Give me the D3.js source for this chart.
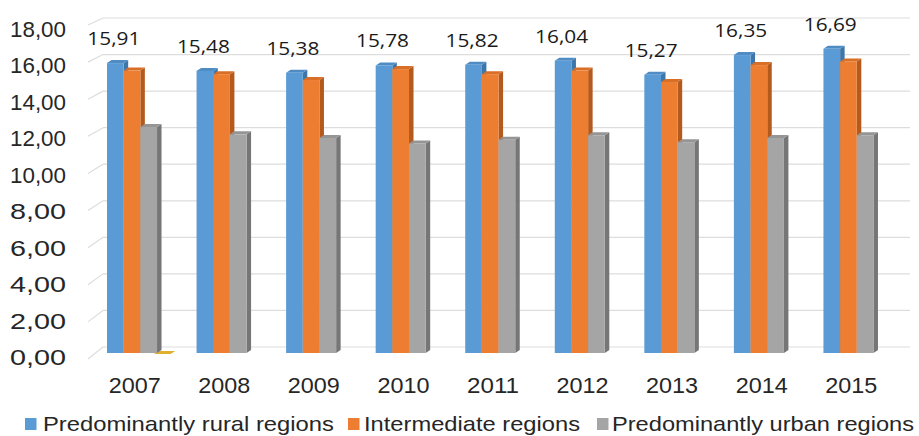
<!DOCTYPE html>
<html>
<head>
<meta charset="utf-8">
<script src="https://cdn.jsdelivr.net/npm/d3@7"></script>
<style>
  body { margin: 0; background: #fff; }
  svg { display: block; }
  .sans { font-family: "Liberation Sans", Arial, sans-serif; fill: #262626; }
  .val { font-family: "Open Sans", Lato, sans-serif; fill: #1a1a1a; }
</style>
</head>
<body>
<div id="chart"></div>
<script>
"use strict";

// Chart data.
const years = ["2007", "2008", "2009", "2010", "2011", "2012", "2013", "2014", "2015"];
const seriesNames = ["Predominantly rural regions", "Intermediate regions", "Predominantly urban regions"];
const rural = [15.91, 15.48, 15.38, 15.78, 15.82, 16.04, 15.27, 16.35, 16.69];
const intermediate = [15.50, 15.30, 14.98, 15.58, 15.30, 15.50, 14.87, 15.80, 16.00];
const urban = [12.40, 12.00, 11.80, 11.50, 11.70, 11.95, 11.57, 11.80, 11.95];
// a stray empty fourth bar shows up only in 2007
const stray = [0, null, null, null, null, null, null, null, null];
const yTicks = [0, 2, 4, 6, 8, 10, 12, 14, 16, 18];

const colors = ["#5B9BD5", "#ED7D31", "#A5A5A5", "#D9A520"];
const sideColors = ["#3E76AA", "#B45A1C", "#767676", "#B08418"];
const topColors = ["#4F8CC4", "#D96E26", "#959595", "#E0B030"];

const width = 919, height = 436;
const svg = d3.select("#chart").append("svg")
    .attr("width", width)
    .attr("height", height);

// Three vertical scales: front edge of side wall, bar front faces, back wall.
const yFront = d3.scaleLinear().domain([0, 18]).range([359, 25]);
const yBar = d3.scaleLinear().domain([0, 18]).range([353, 25]);
const yBack = d3.scaleLinear().domain([0, 18]).range([347, 18]);
const yLabel = d3.scaleLinear().domain([0, 18]).range([357, 28.5]);

const x = d3.scaleBand().domain(years).range([90, 896]).padding(0);
const xs = d3.scaleBand().domain([0, 1, 2, 3]).range([0, 66.7]).padding(0);
const groupOffset = 17;
const dx = 4.5, dy = 3;

const fmt = v => v.toFixed(2).replace(".", ",");

// Gridlines on back and side walls
const grid = svg.append("g").attr("stroke", "#DDDDDD").attr("stroke-width", 1.2).attr("fill", "none");
yTicks.forEach(t => {
    grid.append("line")
        .attr("x1", 103).attr("x2", 910)
        .attr("y1", yBack(t)).attr("y2", yBack(t));
    grid.append("line")
        .attr("x1", 88).attr("x2", 103)
        .attr("y1", yFront(t)).attr("y2", yBack(t));
});

// Y axis labels
svg.append("g").selectAll("text").data(yTicks).join("text")
    .attr("class", "sans")
    .attr("x", 66)
    .attr("y", d => yLabel(d))
    .attr("dy", "0.36em")
    .attr("text-anchor", "end")
    .attr("font-size", 22.5)
    .attr("textLength", 56)
    .attr("lengthAdjust", "spacingAndGlyphs")
    .text(d => fmt(d));

// Year labels
svg.append("g").selectAll("text").data(years).join("text")
    .attr("class", "sans")
    .attr("x", d => x(d) + x.bandwidth() / 2)
    .attr("y", 385)
    .attr("dy", "0.36em")
    .attr("text-anchor", "middle")
    .attr("font-size", 22.5)
    .attr("textLength", 52)
    .attr("lengthAdjust", "spacingAndGlyphs")
    .text(d => d);

// 3D bars, drawn series by series so later ones cover earlier side faces
const allSeries = [rural, intermediate, urban];
const bars = svg.append("g");

function drawBar(g, x0, v, s) {
    let w = xs.bandwidth();
    let yt = yBar(v), yb = yBar(0);
    let x1 = x0 + w;
    // side face
    g.append("polygon")
        .attr("points", [[x1, yt], [x1 + dx, yt - dy], [x1 + dx, yb - dy], [x1, yb]].join(" "))
        .attr("fill", sideColors[s]);
    // top face
    g.append("polygon")
        .attr("points", [[x0, yt], [x0 + dx, yt - dy], [x1 + dx, yt - dy], [x1, yt]].join(" "))
        .attr("fill", topColors[s]);
    // front face
    if (yb - yt > 0) {
        g.append("rect")
            .attr("x", x0).attr("y", yt)
            .attr("width", w).attr("height", yb - yt)
            .attr("fill", colors[s]);
    }
}

stray.forEach((v, i) => {
    if (v === null) return;
    let g = bars.append("g");
    let x0 = x(years[i]) + groupOffset + xs(3) - 3;
    let yt = yBar(v);
    g.append("polygon")
        .attr("points", [[x0, yt + 1], [x0 + dx, yt - 2], [x0 + xs.bandwidth() + dx, yt - 2], [x0 + xs.bandwidth(), yt + 1]].join(" "))
        .attr("fill", topColors[3]);
});

allSeries.forEach((vals, s) => {
    let g = bars.append("g");
    vals.forEach((v, i) => {
        drawBar(g, x(years[i]) + groupOffset + xs(s), v, s);
    });
});

// Value labels above the rural bars
svg.append("g").selectAll("text").data(rural).join("text")
    .attr("class", "val")
    .attr("x", (d, i) => x(years[i]) + groupOffset + xs(0) + xs.bandwidth() / 2 - 1.5)
    .attr("y", d => yBar(d) - 18)
    .attr("text-anchor", "middle")
    .attr("font-size", 17.5)
    .attr("textLength", 53)
    .attr("lengthAdjust", "spacingAndGlyphs")
    .text(d => fmt(d));

// Legend
const legendItems = [
    {name: seriesNames[0], sq: 25, tx: 43, tw: 291},
    {name: seriesNames[1], sq: 348, tx: 364, tw: 216},
    {name: seriesNames[2], sq: 597, tx: 612, tw: 302}
];
const legend = svg.append("g");
legendItems.forEach((d, i) => {
    legend.append("rect")
        .attr("x", d.sq).attr("y", 418)
        .attr("width", 11.5).attr("height", 12)
        .attr("fill", colors[i]);
    legend.append("text")
        .attr("class", "sans")
        .attr("x", d.tx).attr("y", 430.5)
        .attr("font-size", 21)
        .attr("textLength", d.tw)
        .attr("lengthAdjust", "spacingAndGlyphs")
        .text(d.name);
});
</script>
</body>
</html>
